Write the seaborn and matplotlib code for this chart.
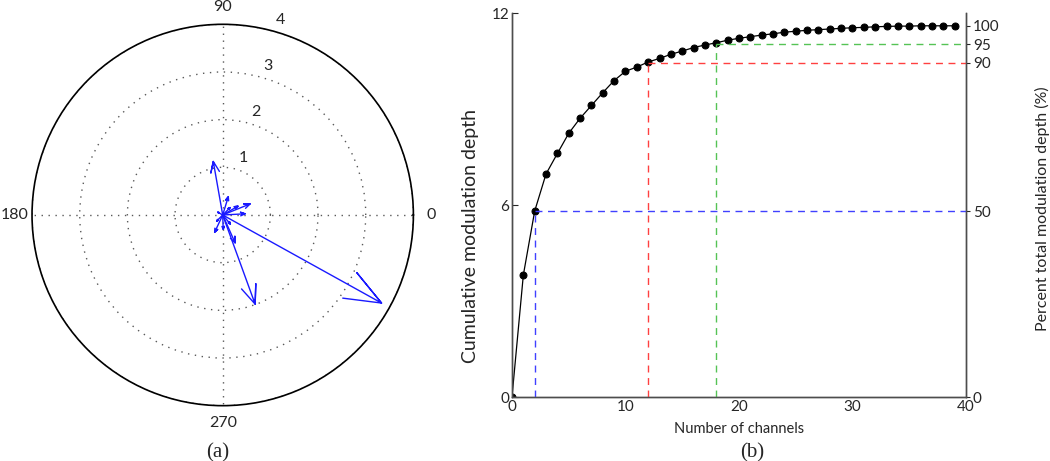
import numpy as np
import matplotlib
matplotlib.use('Agg')
import matplotlib.pyplot as plt
import seaborn as sns

# (a) compass vectors: direction (deg) and length
vec_angle = [-29, -70, 100, 22, 3, 30, 73, -66, -115, -50, -135, 150, 45, -88]
vec_length = [3.81, 1.99, 1.14, 0.62, 0.47, 0.37, 0.40, 0.64, 0.40, 0.25, 0.18, 0.12, 0.22, 0.30]
r_ticks = [1, 2, 3, 4]
theta_ticks = [0, 90, 180, 270]

# (b) cumulative modulation depth vs number of channels
channels = list(range(40))
cum_depth = [0.00, 3.81, 5.81, 6.97, 7.61, 8.24, 8.71, 9.11, 9.51, 9.89,
             10.18, 10.31, 10.47, 10.58, 10.71, 10.81, 10.92, 11.00, 11.07, 11.15,
             11.21, 11.26, 11.31, 11.35, 11.40, 11.43, 11.46, 11.48, 11.50, 11.52,
             11.54, 11.55, 11.57, 11.58, 11.59, 11.59, 11.60, 11.60, 11.60, 11.60]
thresh_pct = [50, 90, 95]
thresh_chan = [2, 12, 18]
thresh_color = ['#4040ff', '#ff4040', '#55c355']

sns.set_style('white')
plt.rcParams['font.family'] = ['Lato', 'DejaVu Sans']

fig = plt.figure(figsize=(10.5, 4.61), dpi=100)

# ---- polar compass ----
ax = fig.add_axes([0.0305, 0.12, 0.3632, 0.8273], projection='polar')
head_a = np.array([0, 1, .8, 1, .8])
head_b = np.array([0, 0, .08, 0, -.08])
for ang, m in zip(vec_angle, vec_length):
    z = m * np.exp(1j * np.deg2rad(ang)) * (head_a + 1j * head_b)
    ax.plot(np.angle(z), np.abs(z), color='#1a1aff', lw=1)
ax.set_ylim(0, 4)
ax.set_rticks(r_ticks)
ax.set_yticklabels([])
ax.set_thetagrids(theta_ticks, [str(t) for t in theta_ticks], fontsize=11.5)
ax.tick_params(axis='x', pad=2)
ax.grid(True, color='0.35', lw=1, linestyle=(0, (1, 4)))
ax.spines['polar'].set_color('black')
ax.spines['polar'].set_linewidth(1.2)
for r in r_ticks:
    ax.annotate(str(r), xy=(np.deg2rad(75), r), xytext=(6, 8), textcoords='offset points',
                ha='center', va='center', fontsize=11.5)

# ---- cumulative curve ----
ax2 = fig.add_axes([0.4876, 0.1388, 0.4324, 0.833])
sns.lineplot(x=channels, y=cum_depth, ax=ax2, color='black', lw=0.9,
             marker='o', markersize=5, markeredgecolor='black')
ax2.set_xlim(0, 40)
ax2.set_ylim(0, 12)
ax2.set_xticks([0, 10, 20, 30, 40])
ax2.set_yticks([0, 6, 12])
ax2.set_xlabel('Number of channels', fontsize=10.5, labelpad=6)
ax2.set_ylabel('Cumulative modulation depth', fontsize=14)
ax2.yaxis.set_label_coords(-0.073, 0.42)
ax2.tick_params(direction='in', length=4, labelsize=11, pad=2)
ax2.spines['top'].set_visible(False)

ax3 = ax2.twinx()
total = cum_depth[-1]
ax3.set_ylim(0, 12 / total * 100)
ax3.set_yticks([0, 50, 90, 95, 100])
ax3.tick_params(direction='out', length=3, labelsize=11, pad=2)
ax3.spines['top'].set_visible(False)
ax3.set_ylabel('Percent total modulation depth (%)', fontsize=11.5)
ax3.yaxis.set_label_coords(1.152, 0.49)
for pct, ch, c in zip(thresh_pct, thresh_chan, thresh_color):
    ax3.plot([ch, ch], [0, pct], color=c, lw=1, dashes=(5, 4))
    ax3.plot([ch, 40], [pct, pct], color=c, lw=1, dashes=(5, 4))
for a in (ax2, ax3):
    for s in a.spines.values():
        s.set_color('0.3')
        s.set_linewidth(1)

fig.text(218 / 1050, 1 - 453 / 461, '(a)', family='Liberation Serif', fontsize=15,
         ha='center', va='center')
fig.text(752 / 1050, 1 - 453 / 461, '(b)', family='Liberation Serif', fontsize=15,
         ha='center', va='center')

fig.savefig('out.png', dpi=100)
